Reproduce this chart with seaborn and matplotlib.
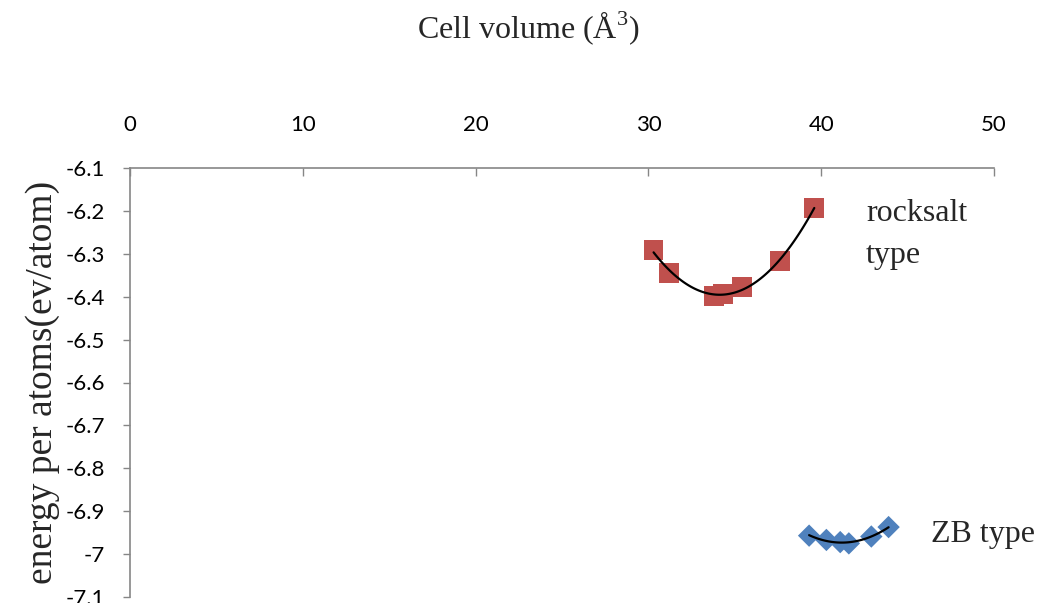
import numpy as np
import pandas as pd
import matplotlib
matplotlib.use("Agg")
import matplotlib.pyplot as plt
import seaborn as sns

# Data
rock_vol = [30.3, 31.2, 33.8, 34.3, 35.4, 37.6, 39.6]
rock_energy = [-6.291, -6.345, -6.398, -6.394, -6.378, -6.317, -6.193]
zb_vol = [39.3, 40.3, 41.1, 41.6, 42.9, 43.9]
zb_energy = [-6.957, -6.967, -6.972, -6.975, -6.959, -6.937]
x_ticks = [0, 10, 20, 30, 40, 50]
y_ticks = [-6.1, -6.2, -6.3, -6.4, -6.5, -6.6, -6.7, -6.8, -6.9, -7.0, -7.1]
y_ticklabels = ["-6.1", "-6.2", "-6.3", "-6.4", "-6.5", "-6.6", "-6.7", "-6.8", "-6.9", "-7", "-7.1"]

rock = pd.DataFrame({"vol": rock_vol, "E": rock_energy})
zb = pd.DataFrame({"vol": zb_vol, "E": zb_energy})

sns.set_style("white")
plt.rcParams["font.family"] = ["Lato", "DejaVu Sans"]
plt.rcParams["mathtext.fontset"] = "custom"
plt.rcParams["mathtext.rm"] = "Liberation Serif"

fig = plt.figure(figsize=(10.37, 6.03), dpi=100)
ax = fig.add_axes([130/1037, 1-597/603, (994-130)/1037, (597-168)/603])

red = "#C0504D"
blue = "#4F81BD"
sns.scatterplot(data=rock, x="vol", y="E", marker="s", s=200, color=red,
                edgecolor="none", ax=ax, zorder=2)
sns.scatterplot(data=zb, x="vol", y="E", marker="D", s=130, color=blue,
                edgecolor="none", ax=ax, zorder=2)
sns.regplot(data=rock, x="vol", y="E", order=2, ci=None, scatter=False,
            line_kws=dict(color="black", lw=1.6, zorder=3), ax=ax)
sns.regplot(data=zb, x="vol", y="E", order=2, ci=None, scatter=False,
            line_kws=dict(color="black", lw=1.6, zorder=3), ax=ax)

ax.set_xlim(0, 50)
ax.set_ylim(-7.1, -6.1)
ax.xaxis.tick_top()
ax.set_xticks(x_ticks)
ax.set_xticklabels([str(t) for t in x_ticks])
ax.set_yticks(y_ticks)
ax.set_yticklabels(y_ticklabels)

gray = "#868686"
for side in ["right", "bottom"]:
    ax.spines[side].set_visible(False)
for side in ["left", "top"]:
    ax.spines[side].set_color(gray)
    ax.spines[side].set_linewidth(1.2)

ax.tick_params(axis="x", top=True, bottom=False, direction="in", length=6,
               width=1.0, color=gray, pad=24, labelsize=16, labelcolor="black")
ax.tick_params(axis="y", left=True, direction="out", length=5, width=1.0,
               color=gray, pad=13, labelsize=16, labelcolor="black")

ax.set_xlabel("")
ax.set_ylabel("energy per atoms(ev/atom)", family="Liberation Serif",
              fontsize=27, labelpad=4)

fig.text(528/1037, 1-28/603, "Cell volume (Å$^3$)", family="Liberation Serif",
         fontsize=23, ha="center", va="center")

ax.text(42.6, -6.205, "rocksalt", family="Liberation Serif", fontsize=23,
        ha="left", va="center")
ax.text(42.6, -6.303, "type", family="Liberation Serif", fontsize=23,
        ha="left", va="center")
ax.text(46.35, -6.955, "ZB type", family="Liberation Serif", fontsize=23,
        ha="left", va="center")

fig.savefig("out.png", dpi=100)
